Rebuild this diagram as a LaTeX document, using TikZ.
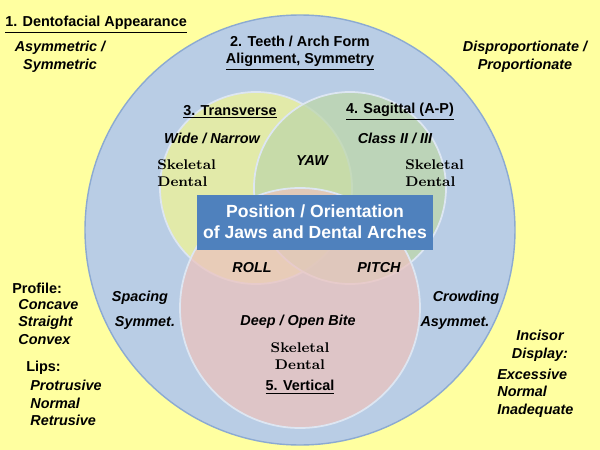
\documentclass[tikz,border=0pt]{standalone}
\usepackage{fontspec}
\setsansfont{Liberation Sans}
\usepackage{tikz}
\begin{document}
\begin{tikzpicture}[x=0.02cm,y=-0.02cm,font=\sffamily\bfseries\fontsize{8.2}{10}\selectfont]

\definecolor{bg_fill}{RGB}{255,255,160}
\definecolor{outer_fill}{RGB}{185,205,229}
\definecolor{outer_draw}{RGB}{140,170,210}
\definecolor{trans_fill}{RGB}{240,245,150}
\definecolor{sagit_fill}{RGB}{190,215,170}
\definecolor{vert_fill}{RGB}{235,195,190}
\definecolor{box_fill}{RGB}{79,129,189}
\tikzstyle{ring_style}=[draw=white!70!outer_draw,line width=1pt,fill opacity=0.75]
\tikzstyle{lbl}=[inner sep=0pt,align=center]
\tikzstyle{ital}=[lbl,font=\sffamily\bfseries\itshape\fontsize{8.2}{10}\selectfont]
\tikzstyle{serif_lbl}=[lbl,align=left,font=\rmfamily\bfseries\fontsize{8}{10}\selectfont]

\fill[bg_fill] (0,0) rectangle (600,450);
\useasboundingbox (0,0) rectangle (600,450);

\node(outer) at (300,230) [circle,minimum size=430*0.02cm,draw=outer_draw,fill=outer_fill,line width=0.8pt] {};
\node(trans) at (256,188) [circle,minimum size=192*0.02cm,ring_style,fill=trans_fill] {};
\node(sagit) at (350,188) [circle,minimum size=192*0.02cm,ring_style,fill=sagit_fill] {};
\node(vert) at (300,308) [circle,minimum size=240*0.02cm,ring_style,fill=vert_fill] {};

\node(center_box) at (315,222) [rectangle,fill=box_fill,minimum width=230*0.02cm,minimum height=55*0.02cm,text=white,align=center,font=\sffamily\bfseries\fontsize{10}{12}\selectfont] {Position / Orientation\\of Jaws and Dental Arches};

\node(dento) at (5,25) [lbl,anchor=west] {\underline{1. Dentofacial Appearance}};
\node(asym) at (60,57) [ital] {Asymmetric /\\Symmetric};
\node(teeth) at (300,53) [lbl] {2. Teeth / Arch Form\\\underline{Alignment, Symmetry}};
\node(dispro) at (525,57) [ital] {Disproportionate /\\Proportionate};

\node(trans_t) at (230,112) [lbl] {\underline{3. Transverse}};
\node(wide) at (212,138) [ital] {Wide / Narrow};
\node(trans_sd) at (157,173) [serif_lbl,anchor=west] {Skeletal\\Dental};
\node(sagit_t) at (400,112) [lbl] {\underline{4. Sagittal (A-P)}};
\node(class) at (395,138) [ital] {Class II / III};
\node(sagit_sd) at (405,173) [serif_lbl,anchor=west] {Skeletal\\Dental};
\node(yaw) at (312,161) [ital] {YAW};
\node(roll) at (252,268) [ital] {ROLL};
\node(pitch) at (379,268) [ital] {PITCH};

\node(spacing) at (140,298) [ital] {Spacing};
\node(symmet) at (145,323) [ital] {Symmet.};
\node(crowd) at (466,298) [ital] {Crowding};
\node(asymmet) at (455,323) [ital] {Asymmet.};

\node(deep) at (298,322) [ital] {Deep / Open Bite};
\node(vert_sd) at (300,356) [serif_lbl,align=center] {Skeletal\\Dental};
\node(vert_t) at (300,387) [lbl] {\underline{5. Vertical}};

\node(profile) at (12,288) [lbl,anchor=west] {Profile:};
\node(prof_list) at (18,322) [ital,anchor=west,align=left] {Concave\\Straight\\Convex};
\node(lips) at (26,368) [lbl,anchor=west] {Lips:};
\node(lips_list) at (30,403) [ital,anchor=west,align=left] {Protrusive\\Normal\\Retrusive};
\node(incisor) at (540,346) [ital] {Incisor\\Display:};
\node(inc_list) at (497,393) [ital,anchor=west,align=left] {Excessive\\Normal\\Inadequate};

\end{tikzpicture}
\end{document}
